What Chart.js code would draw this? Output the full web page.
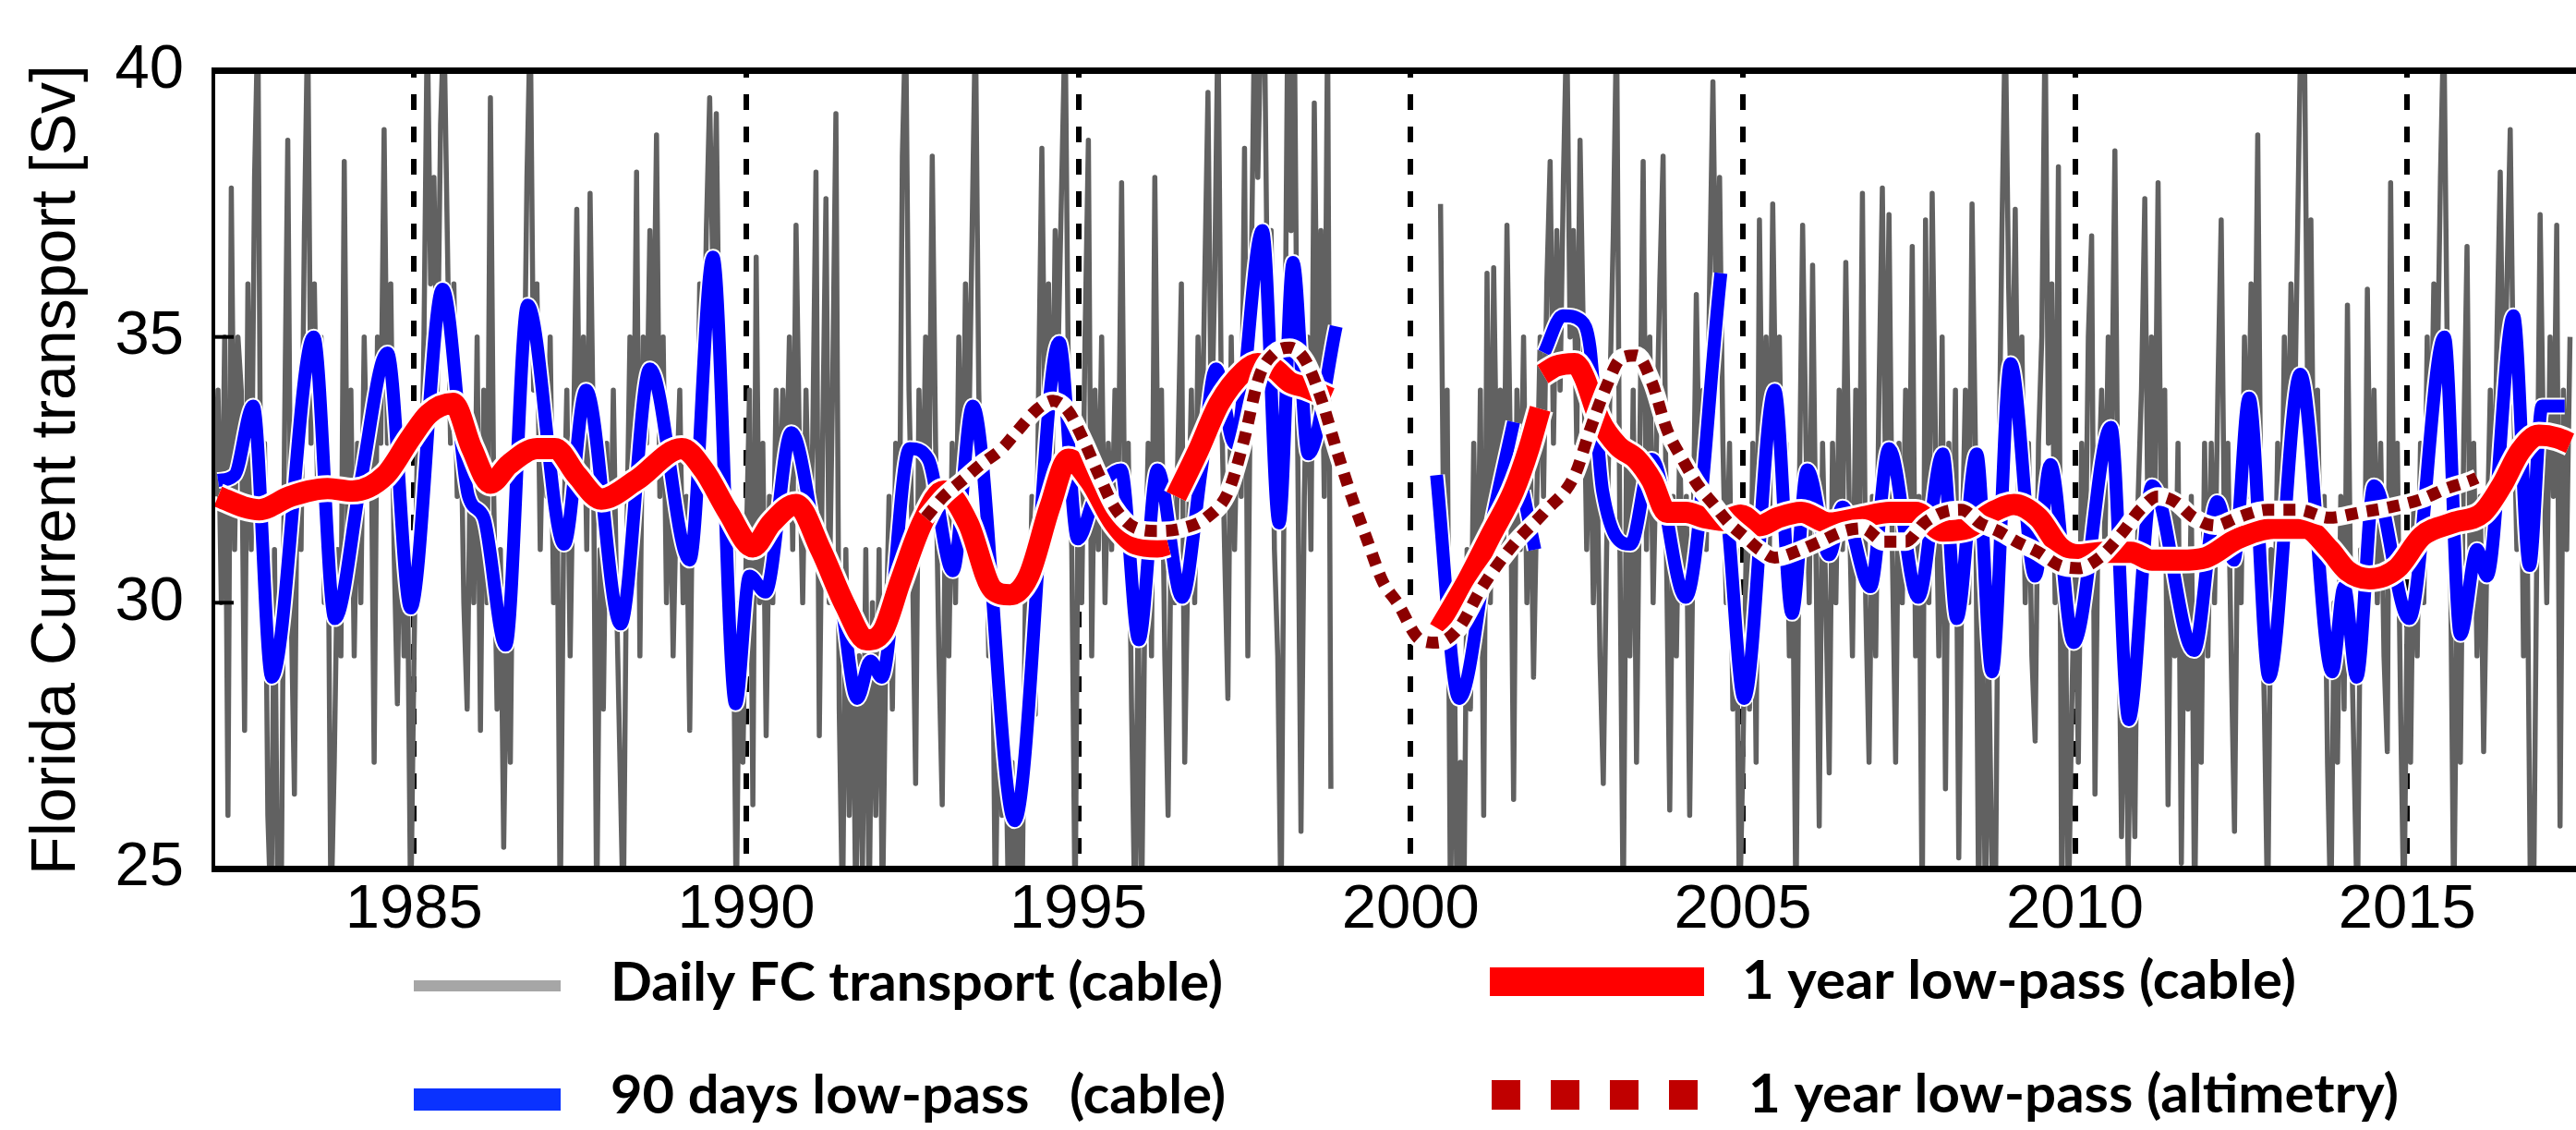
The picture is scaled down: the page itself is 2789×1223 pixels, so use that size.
<!DOCTYPE html>
<html>
<head>
<meta charset="utf-8">
<script src="https://cdn.jsdelivr.net/npm/chart.js@4.4.1/dist/chart.umd.min.js"></script>
<style>
  html, body { margin: 0; padding: 0; background: #fff; }
  #wrap { width: 2789px; height: 1223px; }
</style>
</head>
<body>
<div id="wrap"><canvas id="fcChart" width="2789" height="1223"></canvas></div>
<script>
// axis ticks
const tickYears = [1985, 1990, 1995, 2000, 2005, 2010, 2015];
const yTicks = [25, 30, 35, 40];

// daily transport, one value every 0.05 yr starting 1982.0 (null = no cable data)
const grayStart = 1982.0;
const grayStep = 0.05;
const grayDaily = [
  32,34,30,35,26,37.8,31,35,34,27.6,36,31,38,41,30,33,26,24,31,24,            // 1982
  24,33,38.7,30,26.4,34,31,37,41,33,36,32,35,30,33,24,27,31,29,38.3,          // 1983
  31,34,29,33,30,35,32,34,27,35,33,38.9,33,36,31,28.1,33,29,31,24,            // 1984
  29,33,31,35,41,36,38,34,39,41,37,33,36,32,34,30,28,33,30,35,                // 1985
  27.6,34,30,39.5,32,28,31,25.4,30,27,33,31,35,33,38,41,34,36,31,34,          // 1986
  32,35,30,33,24,31,34,29,33,37.4,32,35,31,37.7,33,24,31,28,33,30,            // 1987
  34,30,27,24,31,35,32,38.1,29,35,33,37,34,38.8,32,35,30,33,29,32,            // 1988
  34,30,32,27.6,33,31,36,33,37,39.5,36,39.2,34,31,33,29,31,24,30,27,          // 1989
  31,34,26.2,36.5,30,33,27.5,32,30,34,31,34,32,35,31,37.1,33,30,34,31,        // 1990
  33,38.1,27.5,33,37.6,30,34,39.2,28,24,31,26,30,24,29,25,31,24,30,26,        // 1991
  31,24,29,32,28,33,30,38.4,41,34,31,26.6,34,31,35,32,38.4,33,29,26.2,        // 1992
  32,29,33,30,35,31,36,33,37,41,34,31,33,29,31,24,29,26,28,24,                // 1993
  27,24,26,24,30,28,32,27.9,34,38.55,33,36,32,37,35,38,41,34,31,24,           // 1994
  33,30,35,38.7,29,34,31,35,30,33,31,34,32,37.9,31,33,28,24,30,24,            // 1995
  30,33,29,38,32,34,29,26,32,30,33,36,27,31,34,30,35,32,36,39.6,              // 1996
  33,36,41,34,31,28.2,35,31,34,32,38.55,29,36,41,38,41,41,35,37,31,           // 1997
  29,24,33,41,37,41,33,25.7,32,35,31,39.4,34,37,32,41,26.5,null,null,null,    // 1998
  null,null,null,null,null,null,null,null,null,null,
  null,null,null,null,null,null,null,null,null,null,                          // 1999
  null,null,null,null,null,null,null,null,null,37.5,31,34,24,30,24,27,24,31,28,33, // 2000
  29,34,26,36.2,30,36.3,32,34,31,37.1,33,26.3,34,31,35,30,33,28.6,32,35,      // 2001
  32,36,38.3,33,37,34,38,41,35,37,33,38.7,35,31,34,30,33,29,26.6,31,          // 2002
  34,36.9,41,31,24,33,29,34,27,33,38.3,31,35,30,33,36,38.4,31,26.1,32,        // 2003
  29,33,30,32,26,31,35.8,32,34,31,36,39.8,35,38,33,30,33,28,31,24,            // 2004
  27,31,28,33,27,37.2,32,35,31,37.5,33,35,31,33,29,31,24,32,37.1,33,          // 2005
  30,36.35,31,25.8,33,30,26.8,33,30,34,31,36.4,32,29,34,31,37.7,30,27,32,     // 2006
  29,34,37.8,32,37.3,31,27,33,30,34,31,36.7,29,32,24,37.2,30,37.7,33,29,      // 2007
  35,26.5,33,30,34,25.2,31,34,30,37.5,33,24,31,24,29,25,24,32,37,41,          // 2008
  36,33,37.4,32,35,30,33,29,27.4,33,35,41,33,36,30,38.2,24,31,24,28,          // 2009
  31,27,33,30,35,36.9,26.4,32,34,31,35,33,38.5,31,25.6,30,25,29,25.6,32,      // 2010
  34,37.6,31,35,32,37.9,31,34,26.2,32,29,33,25.1,31,28,32,24,30,27,33,        // 2011
  29,33,30,34,37.2,31,33,29,25.7,32,30,35,32,36,33,38.8,31,28,24,31,          // 2012
  29,33,30,35,32,36,33,37,41,41,34,37.2,31,34,30,32,27,24,30,27,              // 2013
  32,28,35.6,30,27,24,31,29,35.9,31,34,30,33,29,27.2,37.9,31,33,28,24,        // 2014
  30,27,32,29,33,30,35,32,36,34,38,41,35,31,24,30,27,33,36.7,30,              // 2015
  33,29,32,27.2,31,34,31,35,38.1,33,36,38.9,34,31,35,29,32,25,24,31,          // 2016
  37.3,33,30,35,32,37.1,25.8,34,31,35                                         // 2017
];

// 90 days low-pass (cable)
const blueYears = [1982.05, 1982.3, 1982.58, 1982.86, 1983.49, 1983.81, 1984.2, 1984.6, 1984.95, 1985.43,
  1985.82, 1986.05, 1986.38, 1986.71, 1987.26, 1987.59, 1988.11, 1988.55, 1989.15, 1989.5,
  1989.84, 1990.05, 1990.29, 1990.68, 1991.12, 1991.4, 1991.67, 1991.87, 1992.04, 1992.46,
  1992.74, 1993.11, 1993.41, 1994.04, 1994.71, 1994.99, 1995.25, 1995.64, 1995.91, 1996.19,
  1996.56, 1996.85, 1997.07, 1997.35, 1997.77, 1998.02, 1998.23, 1998.46, 1998.88,
  1999.5,
  2000.39, 2000.73, 2001.22, 2001.55,
  2001.62,
  2001.69, 2001.87,
  2001.94,
  2002.01, 2002.29, 2002.57, 2002.70, 2002.80, 2002.89, 2003.31, 2003.63, 2004.14, 2004.67,
  2004.73,
  2004.79, 2005.02, 2005.48, 2005.74, 2005.97, 2006.3, 2006.5, 2006.92, 2007.2, 2007.64,
  2008.01, 2008.22, 2008.52, 2008.75, 2009.03, 2009.4, 2009.63, 2009.98, 2010.54, 2010.81,
  2011.16, 2011.79, 2012.14, 2012.39, 2012.62, 2012.92, 2013.39, 2013.87, 2014.05, 2014.24,
  2014.5, 2015.03, 2015.56, 2015.8, 2016.05, 2016.2, 2016.6, 2016.84, 2017.03, 2017.37];
const blueValues = [32.3, 32.4, 33.7, 28.6, 35.0, 29.7, 32.3, 34.7, 29.9, 35.9,
  32.0, 31.6, 29.2, 35.6, 31.1, 34.0, 29.6, 34.4, 30.8, 36.5,
  28.1, 30.5, 30.2, 33.2, 30.8, 30.2, 28.2, 28.9, 28.6, 32.9,
  32.7, 30.6, 33.7, 25.9, 34.9, 31.2, 32.0, 32.5, 29.3, 32.5,
  30.1, 32.5, 34.4, 33.0, 37.0, 31.5, 36.4, 32.8, 35.2,
  null,
  32.4, 28.2, 31.5, 33.4,
  null,
  32.1, 31.0,
  null,
  34.7, 35.4, 35.3, 34.8, 33.3, 32.1, 31.1, 32.7, 30.1, 36.2,
  null,
  31.3, 28.2, 34.0, 29.8, 32.5, 30.9, 31.8, 30.3, 32.9, 30.1,
  32.8, 29.7, 32.8, 28.7, 34.5, 30.5, 32.6, 29.25, 33.3, 27.8,
  32.2, 29.1, 31.9, 30.8, 33.85, 28.6, 34.3, 28.7, 30.3, 28.6,
  32.2, 29.7, 35.0, 29.4, 31.0, 30.5, 35.4, 30.7, 33.7, 33.7];

// 1 year low-pass (cable)
const redYears = [1982.05, 1982.44, 1982.67, 1983.14, 1983.7, 1984.07, 1984.57, 1984.95, 1985.22, 1985.59,
  1985.87, 1986.15, 1986.43, 1986.85, 1987.12, 1987.45, 1987.82, 1988.34, 1989.03, 1989.36,
  1989.73, 1990.1, 1990.38, 1990.75, 1991.12, 1991.49, 1991.81, 1992.05, 1992.32, 1992.65,
  1992.97, 1993.34, 1993.71, 1993.97, 1994.25, 1994.57, 1994.85, 1995.17, 1995.54, 1995.87,
  1996.19, 1996.35,
  1996.41,
  1996.47, 1996.8, 1997.12, 1997.49, 1997.7, 1997.95, 1998.18, 1998.42, 1998.79,
  1999.5,
  2000.43, 2000.85, 2001.22, 2001.55, 2001.78, 2001.95,
  2001.97,
  2001.99, 2002.19, 2002.47, 2002.61, 2002.84, 2003.12, 2003.4, 2003.63, 2003.86, 2004.14,
  2004.42, 2004.7, 2004.97, 2005.25, 2005.53, 2005.88, 2006.3, 2006.76, 2007.22, 2007.6,
  2008.01, 2008.38, 2008.75, 2009.08, 2009.45, 2009.77, 2010.05, 2010.42, 2010.84, 2011.16,
  2011.58, 2011.97, 2012.44, 2012.99, 2013.46, 2013.83, 2014.1, 2014.43, 2014.85, 2015.22,
  2015.68, 2016.14, 2016.42, 2016.7, 2016.98, 2017.26, 2017.45];
const redValues = [32.0, 31.8, 31.75, 32.0, 32.15, 32.1, 32.4, 33.1, 33.55, 33.75,
  32.9, 32.25, 32.6, 32.9, 32.9, 32.4, 31.95, 32.3, 32.9, 32.5,
  31.7, 31.05, 31.5, 31.85, 31.0, 29.95, 29.3, 29.45, 30.4, 31.5,
  32.1, 31.5, 30.25, 30.15, 30.5, 31.8, 32.7, 32.3, 31.5, 31.1,
  31.05, 31.1,
  null,
  32.0, 32.85, 33.75, 34.35, 34.5, 34.4, 34.15, 34.05, 33.85,
  null,
  29.5, 30.4, 31.3, 32.1, 32.9, 33.65,
  null,
  34.3, 34.45, 34.5, 34.25, 33.45, 32.95, 32.7, 32.3, 31.7, 31.7,
  31.6, 31.55, 31.65, 31.45, 31.6, 31.7, 31.5, 31.6, 31.7, 31.7,
  31.35, 31.4, 31.7, 31.85, 31.6, 31.05, 30.9, 30.95, 30.95, 30.8,
  30.8, 30.85, 31.2, 31.4, 31.4, 31.0, 30.6, 30.45, 30.65, 31.25,
  31.5, 31.7, 32.2, 32.85, 33.15, 33.1, 33.0];

// 1 year low-pass (altimetry)
const altYears = [1992.7, 1992.97, 1993.25, 1993.53, 1993.85, 1994.06, 1994.39, 1994.62, 1994.85, 1995.08,
  1995.31, 1995.54, 1995.87, 1996.19, 1996.56, 1996.93, 1997.26, 1997.49, 1997.72, 1997.95,
  1998.18, 1998.42, 1998.65, 1998.88, 1999.11, 1999.34, 1999.58, 1999.8, 2000.15, 2000.39,
  2000.71, 2001.08, 2001.55, 2002.01, 2002.47, 2002.7, 2002.94, 2003.17, 2003.4, 2003.63,
  2003.86, 2004.09, 2004.33, 2004.56, 2004.79, 2005.02, 2005.25, 2005.48, 2005.88, 2006.16,
  2006.53, 2006.8, 2007.13, 2007.45, 2007.73, 2008.01, 2008.29, 2008.57, 2008.84, 2009.12,
  2009.45, 2009.77, 2010.05, 2010.37, 2010.7, 2010.98, 2011.25, 2011.51, 2011.79, 2012.11,
  2012.44, 2012.9, 2013.36, 2013.83, 2014.29, 2014.75, 2015.22, 2015.59, 2015.96, 2016.05];
const altValues = [31.6, 32.0, 32.3, 32.6, 32.9, 33.2, 33.65, 33.8, 33.6, 33.05,
  32.4, 31.8, 31.4, 31.35, 31.4, 31.6, 32.1, 33.05, 34.25, 34.7,
  34.8, 34.55, 33.85, 32.9, 32.0, 31.2, 30.4, 30.0, 29.3, 29.25,
  29.5, 30.3, 31.1, 31.7, 32.4, 33.25, 34.05, 34.6, 34.65, 34.15,
  33.25, 32.7, 32.2, 31.85, 31.5, 31.25, 31.0, 30.85, 31.0, 31.15,
  31.35, 31.4, 31.15, 31.15, 31.5, 31.7, 31.75, 31.5, 31.35, 31.15,
  30.95, 30.7, 30.65, 30.85, 31.3, 31.75, 32.0, 31.9, 31.6, 31.45,
  31.6, 31.75, 31.75, 31.6, 31.7, 31.8, 31.95, 32.15, 32.3, 32.35];

const legendLabels = ['Daily FC transport (cable)', '1 year low-pass (cable)',
                      '90 days low-pass   (cable)', '1 year low-pass (altimetry)'];

const zip = (xs, ys) => xs.map((x, i) => ({ x: x, y: ys[i] }));
const grayPts = grayDaily.map((v, i) => ({ x: grayStart + i * grayStep, y: v }));
const bluePts = zip(blueYears, blueValues);
const redPts = zip(redYears, redValues);
const altPts = zip(altYears, altValues);

// frame, inner y ticks and the legend below the plot
const frameAndLegend = {
  id: 'frameAndLegend',
  afterDatasetsDraw(chart) {
    const { ctx, chartArea: a, scales: { y } } = chart;
    ctx.save();
    ctx.fillStyle = '#000';
    ctx.fillRect(a.left - 2, a.top - 4, a.right - a.left + 2, 7);
    ctx.fillRect(a.left - 2, a.bottom - 3, a.right - a.left + 2, 7);
    ctx.fillRect(a.left - 2, a.top - 4, 4, a.bottom - a.top + 7);
    yTicks.forEach(v => {
      const py = y.getPixelForValue(v);
      ctx.fillRect(a.left, py - 2, 22, 4);
    });
    ctx.restore();
  },
  afterDraw(chart) {
    const ctx = chart.ctx;
    ctx.save();
    ctx.fillStyle = '#a6a6a6';
    ctx.fillRect(448, 1061, 159, 12);
    ctx.fillStyle = '#ff0000';
    ctx.fillRect(1613, 1047, 232, 31);
    ctx.fillStyle = '#0a32ff';
    ctx.fillRect(448, 1178, 159, 24);
    ctx.fillStyle = '#c00000';
    for (let k = 0; k < 4; k++) ctx.fillRect(1615 + 64 * k, 1169, 31, 32);

    ctx.fillStyle = '#000';
    ctx.font = 'bold 58px Lato, "Open Sans", sans-serif';
    ctx.textBaseline = 'alphabetic';
    const spots = [[661, 1083, 663], [1886, 1081, 600], [661, 1205, 666], [1893, 1204, 704]];
    legendLabels.forEach((txt, i) => {
      const [x, base, w] = spots[i];
      const natural = ctx.measureText(txt).width;
      ctx.save();
      ctx.translate(x, base);
      ctx.scale(w / natural, 1);
      ctx.fillText(txt, 0, 0);
      ctx.restore();
    });
    ctx.restore();
  }
};

const tickFont = { family: '"Liberation Sans", Arial, sans-serif', size: 67 };

new Chart(document.getElementById('fcChart'), {
  type: 'line',
  data: {
    datasets: [
      { data: altPts, borderColor: '#8b0000', borderWidth: 13, borderDash: [13, 10],
        cubicInterpolationMode: 'monotone', order: 0 },
      { data: altPts, borderColor: '#ffffff', borderWidth: 20,
        cubicInterpolationMode: 'monotone', order: 1 },
      { data: redPts, borderColor: '#ff0000', borderWidth: 23,
        cubicInterpolationMode: 'monotone', order: 2 },
      { data: redPts, borderColor: '#ffffff', borderWidth: 29,
        cubicInterpolationMode: 'monotone', order: 3 },
      { data: bluePts, borderColor: '#0000ff', borderWidth: 14,
        cubicInterpolationMode: 'monotone', order: 4 },
      { data: bluePts, borderColor: '#ffffff', borderWidth: 18,
        cubicInterpolationMode: 'monotone', order: 5 },
      { data: grayPts, borderColor: '#616161', borderWidth: 5.5, tension: 0, order: 6 }
    ]
  },
  options: {
    responsive: false,
    animation: false,
    events: [],
    spanGaps: false,
    layout: { padding: { top: 77, left: 0, right: 0, bottom: 0 } },
    elements: {
      point: { radius: 0 },
      line: { borderJoinStyle: 'round', fill: false }
    },
    plugins: {
      legend: { display: false },
      tooltip: { enabled: false }
    },
    scales: {
      x: {
        type: 'linear',
        min: 1981.98,
        max: 2017.54,
        afterBuildTicks: s => { s.ticks = tickYears.map(v => ({ value: v })); },
        afterFit: s => { s.height = 283; },
        grid: { color: '#000', lineWidth: 6, drawTicks: false },
        border: { display: false, dash: [17, 18], dashOffset: 10 },
        ticks: {
          color: '#000', font: tickFont, padding: 5,
          maxRotation: 0, autoSkip: false,
          callback: v => String(v)
        }
      },
      y: {
        min: 25,
        max: 40,
        afterBuildTicks: s => { s.ticks = yTicks.map(v => ({ value: v })); },
        afterFit: s => { s.width = 231; },
        grid: { display: false },
        border: { display: false },
        ticks: { color: '#000', font: tickFont, padding: 24 },
        title: {
          display: true,
          text: 'Florida Current transport [Sv]',
          color: '#000',
          font: { family: '"Liberation Sans", Arial, sans-serif', size: 68 },
          padding: { top: 21, bottom: 0 }
        }
      }
    }
  },
  plugins: [frameAndLegend]
});
</script>
</body>
</html>
